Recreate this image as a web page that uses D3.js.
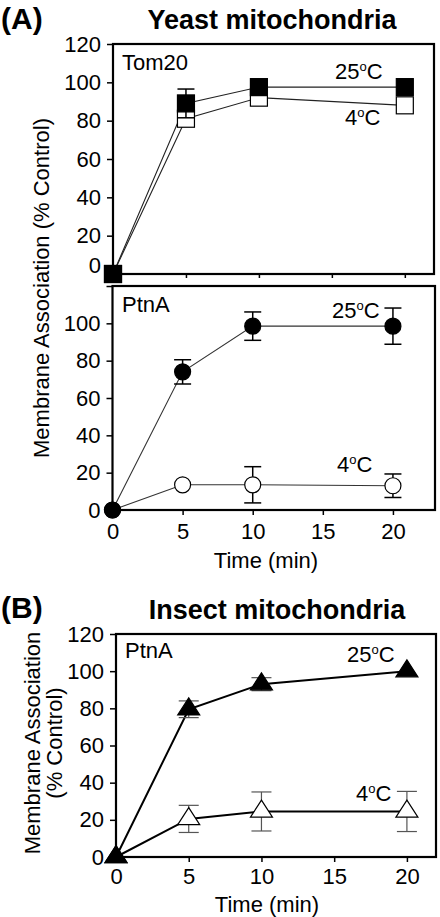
<!DOCTYPE html>
<html><head><meta charset="utf-8">
<script src="https://cdn.jsdelivr.net/npm/d3@7"></script>
<style>
body{margin:0;background:#fff;}
svg{display:block;font-family:Arial,"Liberation Sans",sans-serif;}
</style></head>
<body><svg id="c" width="440" height="917"></svg>
<script>
// ---- data ----
const times = [0, 5, 10, 20];
const xTicks = [0, 5, 10, 15, 20];
const yTicks = [0, 20, 40, 60, 80, 100, 120];

const tom20_25 = [0, 89, 97.5, 97.5];
const tom20_25_err = [0, 7.5, 0, 0];
const tom20_4 = [0, 81, 92, 88];
const tom20_4_err = [0, 0, 0, 0];

const yeastPtnA_25 = [0, 74, 98.5, 98.5];
const yeastPtnA_25_err = [0, 6.5, 7.6, 9.7];
const yeastPtnA_4 = [0, 13.5, 13.5, 13];
const yeastPtnA_4_err = [0, 0, 9.7, 6.3];

const insectPtnA_25 = [0, 79.5, 93, 100];
const insectPtnA_25_err = [0, 4.5, 3.5, 0];
const insectPtnA_4 = [0, 20.5, 24.5, 24.5];
const insectPtnA_4_err = [0, 7.3, 10.5, 10.8];

const svg = d3.select("#c");
const FONT = 22;

function series(vals, errs){ return times.map((t,i)=>({t, v:vals[i], e:errs[i]})); }

function panel(opt){
  const x = d3.scaleLinear().domain(opt.xDomain).range(opt.xRange);
  const y = d3.scaleLinear().domain([0,120]).range(opt.yRange);
  const g = svg.append("g");
  const ya = g.append("g").attr("transform",`translate(${opt.xRange[0]},0)`)
    .call(d3.axisLeft(y).tickValues(yTicks).tickSize(6).tickPadding(6)
      .tickFormat(d => (opt.hide120 && d===120) ? "" : d));
  ya.select(".domain").remove();
  ya.selectAll("line").attr("stroke","#000").attr("stroke-width",1.5);
  ya.selectAll("text").attr("font-size",FONT).attr("fill","#000").attr("font-family",null);
  if (opt.zeroShift) ya.selectAll(".tick").filter(d=>d===0).select("text").attr("dy", opt.zeroShift);
  const xa = g.append("g").attr("transform",`translate(0,${opt.yRange[0]})`)
    .call(d3.axisBottom(x).tickValues(xTicks).tickSize(opt.xTickSize).tickPadding(opt.xPad)
      .tickFormat(opt.xLabels ? d3.format("d") : ""));
  xa.select(".domain").remove();
  xa.selectAll("line").attr("stroke","#000").attr("stroke-width",1.5);
  xa.selectAll("text").attr("font-size",FONT).attr("fill","#000").attr("font-family",null);
  g.append("rect").attr("x",opt.xRange[0]).attr("y",opt.yRange[1])
    .attr("width",opt.xRange[1]-opt.xRange[0]).attr("height",opt.yRange[0]-opt.yRange[1])
    .attr("fill","none").attr("stroke","#000").attr("stroke-width",2.2);
  return {g,x,y};
}

function drawLine(p, data, color, width){
  p.g.append("path").datum(data)
    .attr("d", d3.line().x(d=>p.x(d.t)).y(d=>p.y(d.v)))
    .attr("fill","none").attr("stroke",color).attr("stroke-width",width);
}
function drawErr(p, data, color, width, cap){
  const eg = p.g.append("g").attr("stroke",color).attr("stroke-width",width);
  data.filter(d=>d.e>0).forEach(d=>{
    const cx = p.x(d.t), y1 = p.y(d.v+d.e), y2 = p.y(d.v-d.e);
    eg.append("line").attr("x1",cx).attr("x2",cx).attr("y1",y1).attr("y2",y2);
    eg.append("line").attr("x1",cx-cap/2).attr("x2",cx+cap/2).attr("y1",y1).attr("y2",y1);
    eg.append("line").attr("x1",cx-cap/2).attr("x2",cx+cap/2).attr("y1",y2).attr("y2",y2);
  });
}
const triSym = { draw(ctx, size){ const w=11, h=17; ctx.moveTo(0,-h*2/3); ctx.lineTo(w,h/3); ctx.lineTo(-w,h/3); ctx.closePath(); } };
function drawMarkers(p, data, shape, fill){
  const mg = p.g.append("g");
  data.forEach(d=>{
    const cx=p.x(d.t), cy=p.y(d.v);
    if (shape==="square"){
      mg.append("rect").attr("x",cx-8.5).attr("y",cy-8.5).attr("width",17).attr("height",17)
        .attr("fill",fill).attr("stroke","#000").attr("stroke-width",1.2);
    } else if (shape==="circle"){
      mg.append("circle").attr("cx",cx).attr("cy",cy).attr("r",8)
        .attr("fill",fill).attr("stroke","#000").attr("stroke-width",1.2);
    } else {
      mg.append("path").attr("d",d3.symbol(triSym)()).attr("transform",`translate(${cx},${cy})`)
        .attr("fill",fill).attr("stroke","#000").attr("stroke-width",1.2);
    }
  });
}
function label(x,y,txt,opts={}){
  const t = svg.append("text").attr("x",x).attr("y",y).attr("font-size",opts.size||FONT)
    .attr("font-weight",opts.bold?"bold":null).attr("fill","#000")
    .attr("text-anchor",opts.anchor||"start");
  if (opts.deg){
    t.append("tspan").text(txt);
    t.append("tspan").attr("font-size",13).attr("dy",-8).text("o");
    t.append("tspan").attr("dy",8).text("C");
  } else t.text(txt);
  return t;
}

// ---- Panel A top: Tom20 ----
const p1 = panel({xDomain:[0,22], xRange:[113,434], yRange:[274,44], xTickSize:4, xPad:4, xLabels:false, zeroShift:"-0.08em"});
const t25 = series(tom20_25, tom20_25_err), t4 = series(tom20_4, tom20_4_err);
drawLine(p1, t4, "#222", 1.1);
drawLine(p1, t25, "#222", 1.1);
drawMarkers(p1, t4, "square", "#fff");
drawErr(p1, t25, "#000", 1.5, 17);
drawMarkers(p1, t25, "square", "#000");
label(122, 70, "Tom20");
label(335, 79, "25", {deg:true});
label(345, 125, "4", {deg:true});

// ---- Panel A bottom: PtnA yeast ----
const p2 = panel({xDomain:[0,23], xRange:[112.5,435], yRange:[510,286], xTickSize:5, xPad:8, xLabels:true, hide120:true});
const y25 = series(yeastPtnA_25, yeastPtnA_25_err), y4 = series(yeastPtnA_4, yeastPtnA_4_err);
drawLine(p2, y4, "#333", 1.1);
drawLine(p2, y25, "#333", 1.1);
drawErr(p2, y4, "#000", 1.5, 17);
drawErr(p2, y25, "#000", 1.5, 17);
drawMarkers(p2, y4, "circle", "#fff");
drawMarkers(p2, y25, "circle", "#000");
label(122, 312, "PtnA");
label(332, 318, "25", {deg:true});
label(337, 472, "4", {deg:true});
label(266, 568, "Time (min)", {anchor:"middle"});

// ---- Panel B: PtnA insect ----
const p3 = panel({xDomain:[0,22], xRange:[116,436], yRange:[857,634], xTickSize:5, xPad:6, xLabels:true});
const i25 = series(insectPtnA_25, insectPtnA_25_err), i4 = series(insectPtnA_4, insectPtnA_4_err);
drawLine(p3, i4, "#000", 2);
drawLine(p3, i25, "#000", 2);
drawErr(p3, i4, "#555", 1.2, 20);
drawErr(p3, i25, "#555", 1.2, 20);
drawMarkers(p3, i4, "tri", "#fff");
drawMarkers(p3, i25, "tri", "#000");
label(125, 658, "PtnA");
label(347, 662, "25", {deg:true});
label(356, 801, "4", {deg:true});
label(267, 912, "Time (min)", {anchor:"middle"});

// ---- titles ----
label(1, 29, "(A)", {bold:true, size:30});
label(272, 29, "Yeast mitochondria", {bold:true, size:27, anchor:"middle"});
label(1, 618, "(B)", {bold:true, size:30});
label(277, 619, "Insect mitochondria", {bold:true, size:27, anchor:"middle"});

// ---- y axis labels ----
label(0,0,"Membrane Association (% Control)",{anchor:"middle"}).attr("transform","translate(49,288) rotate(-90)");
label(0,0,"Membrane Association",{anchor:"middle"}).attr("transform","translate(40,743) rotate(-90)");
label(0,0,"(% Control)",{anchor:"middle"}).attr("transform","translate(62,743) rotate(-90)");
</script></body></html>
